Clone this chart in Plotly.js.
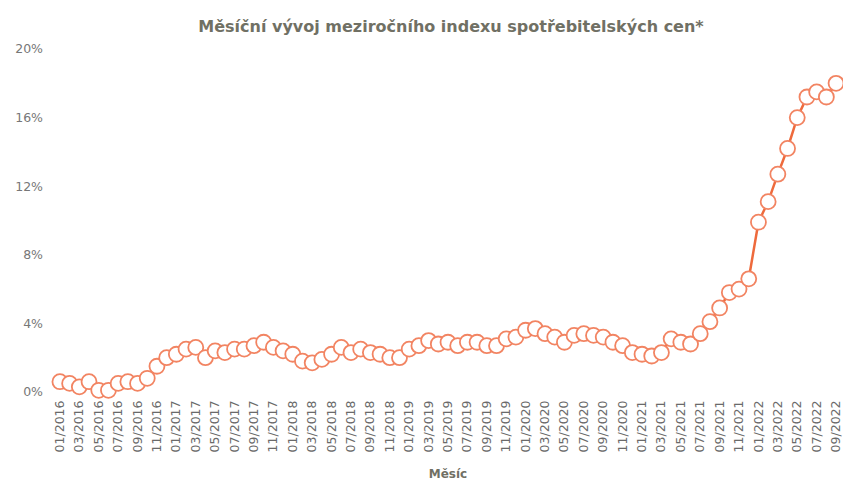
<!DOCTYPE html>
<html>
<head>
<meta charset="utf-8">
<script src="https://cdn.plot.ly/plotly-3.0.1.min.js"></script>
<style>html,body{margin:0;padding:0;background:#fff;}#chart{width:843px;height:485px;}</style>
</head>
<body>
<div id="chart"></div>
<script>
const months = [
"01/2016","02/2016","03/2016","04/2016","05/2016","06/2016","07/2016","08/2016","09/2016","10/2016","11/2016","12/2016",
"01/2017","02/2017","03/2017","04/2017","05/2017","06/2017","07/2017","08/2017","09/2017","10/2017","11/2017","12/2017",
"01/2018","02/2018","03/2018","04/2018","05/2018","06/2018","07/2018","08/2018","09/2018","10/2018","11/2018","12/2018",
"01/2019","02/2019","03/2019","04/2019","05/2019","06/2019","07/2019","08/2019","09/2019","10/2019","11/2019","12/2019",
"01/2020","02/2020","03/2020","04/2020","05/2020","06/2020","07/2020","08/2020","09/2020","10/2020","11/2020","12/2020",
"01/2021","02/2021","03/2021","04/2021","05/2021","06/2021","07/2021","08/2021","09/2021","10/2021","11/2021","12/2021",
"01/2022","02/2022","03/2022","04/2022","05/2022","06/2022","07/2022","08/2022","09/2022"
];
const cpi = [
0.6,0.5,0.3,0.6,0.1,0.1,0.5,0.6,0.5,0.8,1.5,2.0,
2.2,2.5,2.6,2.0,2.4,2.3,2.5,2.5,2.7,2.9,2.6,2.4,
2.2,1.8,1.7,1.9,2.2,2.6,2.3,2.5,2.3,2.2,2.0,2.0,
2.5,2.7,3.0,2.8,2.9,2.7,2.9,2.9,2.7,2.7,3.1,3.2,
3.6,3.7,3.4,3.2,2.9,3.3,3.4,3.3,3.2,2.9,2.7,2.3,
2.2,2.1,2.3,3.1,2.9,2.8,3.4,4.1,4.9,5.8,6.0,6.6,
9.9,11.1,12.7,14.2,16.0,17.2,17.5,17.2,18.0
];
const tickLabels = months.filter((m, i) => i % 2 === 0);
const yTicks = [0,4,8,12,16,20];
const yTickText = ["0%","4%","8%","12%","16%","20%"];

const trace = {
  x: months, y: cpi, type: 'scatter', mode: 'lines+markers',
  line: {color: '#ee6a3c', width: 2.5},
  marker: {symbol: 'circle', size: 15, color: '#ffffff', line: {color: '#f28462', width: 1.8}},
  cliponaxis: false, hoverinfo: 'x+y'
};
const layout = {
  width: 843, height: 485,
  margin: {l: 58, r: 5, t: 49, b: 93},
  paper_bgcolor: '#fff', plot_bgcolor: '#fff',
  showlegend: false,
  title: {text: 'Měsíční vývoj meziročního indexu spotřebitelských cen*', x: 0.535, xanchor: 'center', y: 0.945, yanchor: 'middle',
          font: {family: 'DejaVu Sans, sans-serif', size: 16, color: '#707064', weight: 'bold'}},
  xaxis: {type: 'category', range: [-0.2, 80.2], tickmode: 'array', tickvals: tickLabels, ticktext: tickLabels,
          tickangle: -90, showgrid: false, zeroline: false, showline: false, ticks: '', ticklabelstandoff: 5,
          tickfont: {family: 'DejaVu Sans, sans-serif', size: 12.5, color: '#6a6a6a'},
          title: {text: 'Měsíc', standoff: 18, font: {family: 'DejaVu Sans, sans-serif', size: 12, color: '#707064', weight: 'bold'}}},
  yaxis: {range: [0, 20], tickmode: 'array', tickvals: yTicks, ticktext: yTickText,
          showgrid: false, zeroline: false, showline: false, ticks: '', ticklabelstandoff: 14,
          tickfont: {family: 'DejaVu Sans, sans-serif', size: 12.5, color: '#777777'}}
};
Plotly.newPlot('chart', [trace], layout, {displayModeBar: false, staticPlot: true});
</script>
</body>
</html>
